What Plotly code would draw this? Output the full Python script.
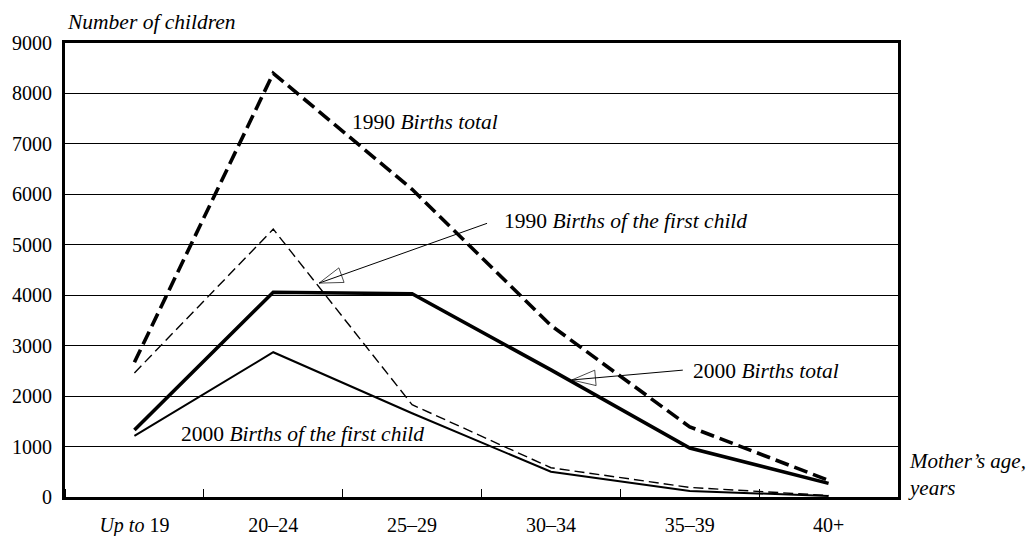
import plotly.graph_objects as go

# mother's age groups
age_groups = ["<i>Up to</i> 19", "20–24", "25–29", "30–34", "35–39", "40+"]

# number of children
births_total_1990 = [2670, 8400, 6100, 3400, 1390, 330]
first_child_1990 = [2460, 5310, 1830, 580, 190, 30]
births_total_2000 = [1330, 4060, 4030, 2520, 970, 270]
first_child_2000 = [1210, 2870, 1660, 500, 120, 20]

y_ticks = list(range(0, 9001, 1000))
x_pos = list(range(len(age_groups)))

FONT = "Liberation Serif"
FS = 21.5

fig = go.Figure()

fig.add_trace(go.Scatter(x=x_pos, y=births_total_1990, mode="lines",
                         line=dict(color="black", width=3.6, dash="14px,6px"),
                         name="1990 Births total"))
fig.add_trace(go.Scatter(x=x_pos, y=first_child_1990, mode="lines",
                         line=dict(color="black", width=1.4, dash="10px,5px"),
                         name="1990 Births of the first child"))
fig.add_trace(go.Scatter(x=x_pos, y=births_total_2000, mode="lines",
                         line=dict(color="black", width=3.6),
                         name="2000 Births total"))
fig.add_trace(go.Scatter(x=x_pos, y=first_child_2000, mode="lines",
                         line=dict(color="black", width=2),
                         name="2000 Births of the first child"))

# pointer arrows (tail -> tip) with open heads
for tail, tip in [((2.54, 5425), (1.33, 4240)), ((3.95, 2515), (3.15, 2320))]:
    fig.add_trace(go.Scatter(
        x=[tail[0], tip[0]], y=[tail[1], tip[1]], mode="lines+markers",
        line=dict(color="black", width=1),
        marker=dict(symbol="arrow-open", size=[0, 25], angleref="previous",
                    color="black", line=dict(color="black", width=1)),
        hoverinfo="skip"))

labels = [
    (1.55, 7430, "1990 <i>Births total</i>"),
    (2.65, 5470, "1990 <i>Births of the first child</i>"),
    (4.01, 2500, "2000 <i>Births total</i>"),
    (0.32, 1250, "2000 <i>Births of the first child</i>"),
]
for x, y, t in labels:
    fig.add_annotation(x=x, y=y, text=t, showarrow=False, xanchor="left",
                       yanchor="middle", font=dict(size=FS))

fig.add_annotation(xref="paper", yref="paper", x=0.0, y=1.046,
                   text="<i>Number of children</i>", showarrow=False,
                   xanchor="left", yanchor="middle", font=dict(size=FS))
fig.add_annotation(xref="paper", yref="paper", x=1.01, y=0.05,
                   text="<i>Mother’s age,</i><br><i>years</i>", showarrow=False,
                   xanchor="left", yanchor="middle", align="left",
                   font=dict(size=21))

fig.update_xaxes(range=[-0.5, 5.5], tickvals=x_pos, ticktext=age_groups,
                 showgrid=False, zeroline=False, automargin=False,
                 showline=True, linecolor="black", linewidth=3, mirror=True,
                 ticks="", ticklabelstandoff=8,
                 minor=dict(tick0=0.5, dtick=1, ticks="inside", ticklen=8,
                            tickcolor="black", tickwidth=1, showgrid=False))
fig.update_yaxes(range=[0, 9000], tickvals=y_ticks, showgrid=True,
                 gridcolor="black", gridwidth=1, zeroline=False,
                 automargin=False,
                 showline=True, linecolor="black", linewidth=3, mirror=True,
                 ticks="inside", ticklen=8, tickcolor="black", tickwidth=1,
                 ticklabelstandoff=6)

fig.update_layout(width=1035, height=536, showlegend=False,
                  margin=dict(l=57, r=145, t=35, b=47),
                  paper_bgcolor="white", plot_bgcolor="white",
                  font=dict(family=FONT, size=20, color="black"))

fig.write_html("out.html")
